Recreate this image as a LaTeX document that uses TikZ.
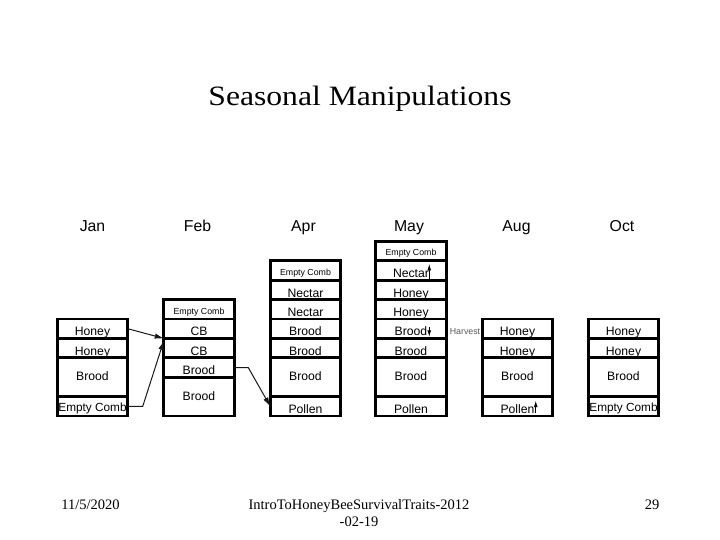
\documentclass[tikz,border=0pt]{standalone}
\usepackage{fontspec}
\usepackage{graphicx}
\setmainfont{Liberation Serif}
\newfontfamily\arialfont{Liberation Sans}
\usetikzlibrary{positioning,arrows.meta}
\begin{document}
\begin{tikzpicture}[x=1pt,y=-1pt,
  cell/.style={draw, line width=2.8pt, minimum width=70.5pt, minimum height=19.4pt,
    inner sep=0pt, outer sep=0pt, anchor=south, text=black,
    font=\arialfont\fontsize{12.2}{13}\selectfont, text height=14.4pt, text depth=0pt},
  bigcell/.style={cell, minimum height=38.8pt, text height=7.5pt},
  ecsmall/.style={cell, font=\arialfont\fontsize{8.8}{9}\selectfont, text height=9.4pt},
  eclarge/.style={cell, font=\arialfont\fontsize{11.8}{12}\selectfont, text height=9.4pt},
  month/.style={font=\arialfont\fontsize{15.8}{17}\selectfont, anchor=base, inner sep=0pt},
  foot/.style={font=\fontsize{14.5}{16}\selectfont, anchor=base, inner sep=0pt},
  arr/.style={draw=black!90, line width=1pt, -{Latex[length=9pt,width=5.5pt]}},
  sarr/.style={draw=black, line width=0.9pt, -{Latex[length=6.5pt,width=3.8pt]}},
  harvest/.style={font=\arialfont\fontsize{8.8}{9}\selectfont, text=black!65, inner sep=0pt}
]
\useasboundingbox (0,0) rectangle (720,540);

% title
\node[anchor=base, inner sep=0pt, font=\fontsize{28}{30}\selectfont] (title) at (360,105.5)
  {\scalebox{1.13}[1]{Seasonal Manipulations}};

% month labels
\node[month] (mjan) at (92.5,232) {Jan};
\node[month] (mfeb) at (197.5,232) {Feb};
\node[month] (mapr) at (303.5,231) {Apr};
\node[month] (mmay) at (409,231) {May};
\node[month] (maug) at (516.5,231.5) {Aug};
\node[month] (moct) at (622,232) {Oct};

% Jan
\node[eclarge] (janD) at (92.5,416) {Empty Comb};
\node[bigcell, above=0pt of janD] (janC) {Brood};
\node[cell, above=0pt of janC] (janB) {Honey};
\node[cell, above=0pt of janB] (janA) {Honey};

% Feb
\node[bigcell] (febE) at (199,416) {Brood};
\node[cell, above=0pt of febE] (febD) {Brood};
\node[cell, above=0pt of febD] (febC) {CB};
\node[cell, above=0pt of febC] (febB) {CB};
\node[ecsmall, above=0pt of febB] (febA) {Empty Comb};

% Apr
\node[cell] (aprG) at (305.5,416) {Pollen};
\node[bigcell, above=0pt of aprG] (aprF) {Brood};
\node[cell, above=0pt of aprF] (aprE) {Brood};
\node[cell, above=0pt of aprE] (aprD) {Brood};
\node[cell, above=0pt of aprD] (aprC) {Nectar};
\node[cell, above=0pt of aprC] (aprB) {Nectar};
\node[ecsmall, above=0pt of aprB] (aprA) {Empty Comb};

% May
\node[cell] (mayH) at (411,416) {Pollen};
\node[bigcell, above=0pt of mayH] (mayG) {Brood};
\node[cell, above=0pt of mayG] (mayF) {Brood};
\node[cell, above=0pt of mayF] (mayE) {Brood};
\node[cell, above=0pt of mayE] (mayD) {Honey};
\node[cell, above=0pt of mayD] (mayC) {Honey};
\node[cell, above=0pt of mayC] (mayB) {Nectar};
\node[ecsmall, above=0pt of mayB] (mayA) {Empty Comb};

% Aug
\node[cell] (augD) at (517.5,416) {Pollen};
\node[bigcell, above=0pt of augD] (augC) {Brood};
\node[cell, above=0pt of augC] (augB) {Honey};
\node[cell, above=0pt of augB] (augA) {Honey};

% Oct
\node[eclarge] (octD) at (623.5,416) {Empty Comb};
\node[bigcell, above=0pt of octD] (octC) {Brood};
\node[cell, above=0pt of octC] (octB) {Honey};
\node[cell, above=0pt of octB] (octA) {Honey};

% harvest label
\node[harvest] (harv) at (465,332) {Harvest};

% connectors
\draw[arr] (janA.east) -- (febC.north west);
\draw[arr] (janD.east) -- ++(15,0) -- ([yshift=-2.5pt]febC.north west);
\draw[arr] (febD.east) -- ++(14,0) -- (aprG.west);

% small arrows
\draw[sarr] ([xshift=-17pt,yshift=1.5pt]mayB.south east) -- ([xshift=-17pt,yshift=-3pt]mayB.north east);
\draw[sarr] ([xshift=-17pt,yshift=-8pt]mayE.north east) -- ([xshift=-17pt,yshift=1.5pt]mayE.south east);
\draw[sarr] ([xshift=-17pt,yshift=3pt]augD.south east) -- ([xshift=-17pt,yshift=-4pt]augD.north east);

% footer
\node[foot] (fdate) at (90.5,509.5) {11/5/2020};
\node[foot] (ftitle) at (359,509.5) {IntroToHoneyBeeSurvivalTraits-2012};
\node[foot] (ftitle2) at (359,526) {-02-19};
\node[foot] (fpage) at (652,509.5) {29};
\end{tikzpicture}
\end{document}
